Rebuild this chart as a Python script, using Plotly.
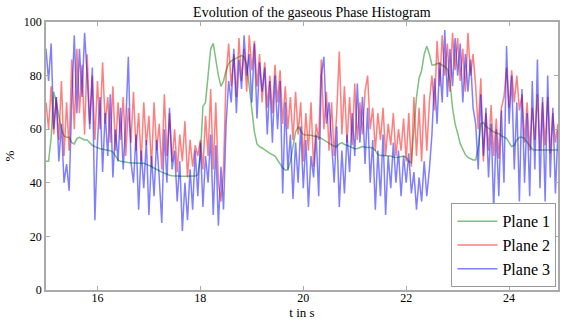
import numpy as np
import plotly.graph_objects as go

t0 = 15.0
dt = 0.05

plane1 = [
    48, 48, 57, 74, 70, 65, 60, 57.5, 57, 57,
    55, 54.5, 56.5, 57, 56.5, 56, 56, 55, 54, 53.5,
    53, 52.7, 52.5, 52.3, 52.2, 52, 51.5, 50, 48.5, 48,
    47.8, 47.6, 47.5, 47.4, 47.4, 47.3, 47.3, 47.3, 47.3, 47,
    46.5, 46, 45.6, 45, 44.5, 44, 43.5, 43, 42.8, 42.6,
    42.5, 42.4, 42.4, 42.4, 42.4, 42.4, 42.4, 42.4, 42.5, 43,
    50, 68.5, 70, 80, 90, 92, 86, 80, 76, 78,
    82, 84.5, 85.5, 86, 86.5, 87, 87.5, 87, 84, 76,
    68, 59, 54.5, 53.5, 53, 52.3, 51.5, 51, 50.5, 50,
    48.5, 47, 45.5, 44.8, 44.8, 48, 54, 59, 61, 59.5,
    58, 57.8, 57.8, 57.7, 57.5, 57.3, 57, 56.6, 56, 55.3,
    54.7, 54.2, 53.6, 53.5, 54.5, 55, 54.3, 54, 53.5, 53,
    52.7, 52.8, 53.3, 53.5, 53.3, 53.3, 53.2, 53, 52, 50.5,
    50.2, 50.2, 50.2, 50.2, 50, 49.6, 49.4, 49.5, 49.8, 50,
    49.5, 48, 47.5, 60, 72, 79, 82, 88, 91, 88,
    84, 84, 84.5, 84.5, 84, 83.3, 82.5, 78, 68, 62,
    58.5, 54.5, 52.5, 50.5, 49.5, 49, 48.5, 48.5, 53, 62,
    62.5, 61, 60.3, 59.5, 59, 58.6, 58.3, 57.5, 57, 56.6,
    55, 53.5, 54, 56, 57, 57, 56.5, 55, 53.8, 52.5,
    52.2, 52.2, 52.2, 52.2, 52.2, 52.2, 52.2, 52.2, 52.2, 52.2,
]

plane2 = [
    70, 60, 76, 58, 72, 56, 78, 50, 70, 52,
    86, 60, 90, 66, 84, 58, 88, 62, 80, 56,
    78, 60, 85, 62, 72, 55, 76, 52, 70, 56,
    72, 50, 68, 55, 74, 52, 66, 48, 70, 54,
    65, 46, 70, 52, 62, 45, 73, 50, 66, 48,
    60, 44, 58, 48, 63, 42, 56, 46, 54, 50,
    56, 45, 65, 50, 75, 45, 70, 40, 33, 45,
    80, 92, 76, 88, 72, 94, 78, 90, 74, 95,
    82, 93, 76, 88, 70, 85, 68, 80, 66, 84,
    70, 82, 62, 76, 60, 72, 56, 74, 58, 70,
    48, 66, 52, 70, 46, 62, 56, 86, 60, 74,
    52, 70, 50, 66, 89, 58, 76, 55, 72, 54,
    77, 56, 70, 58, 74, 80, 60, 68, 52, 66,
    56, 68, 50, 62, 54, 66, 50, 60, 52, 64,
    48, 66, 46, 72, 50, 68, 48, 73, 52, 70,
    80, 67, 93, 76, 95, 80, 92, 74, 96, 82,
    94, 78, 90, 74, 96, 80, 88, 76, 60, 79,
    48, 66, 52, 69, 50, 64, 49, 68, 72, 83,
    68, 82, 70, 80, 67, 73, 55, 70, 52, 68,
    56, 73, 52, 70, 54, 72, 51, 66, 55, 62,
]

plane3 = [
    90, 78, 92, 60, 72, 48, 62, 40, 47, 37,
    70, 95, 66, 90, 72, 96, 80, 60, 83, 26,
    55, 72, 44, 66, 50, 73, 42, 60, 48, 68,
    45, 62, 87, 48, 40, 58, 30, 52, 38, 56,
    28, 50, 35, 56, 42, 25, 60, 40, 68, 45,
    52, 33, 48, 22, 40, 26, 45, 30, 52, 35,
    55, 31, 50, 40, 58, 28, 54, 24, 46, 30,
    62, 78, 70, 90, 66, 86, 75, 95, 80, 88,
    70, 92, 64, 85, 74, 83, 58, 78, 55, 80,
    60, 78, 36, 70, 45, 58, 34, 55, 40, 61,
    38, 56, 31, 50, 42, 58, 35, 80, 87, 62,
    70, 55, 40, 61, 31, 52, 36, 58, 44, 66,
    50, 77, 55, 72, 47, 68, 40, 56, 30, 52,
    35, 58, 28, 50, 38, 55, 40, 52, 35, 50,
    40, 51, 36, 44, 30, 42, 33, 48, 35, 45,
    58, 79, 62, 85, 70, 97, 72, 90, 76, 94,
    80, 92, 70, 88, 74, 86, 68, 62, 45, 73,
    50, 68, 42, 62, 30, 60, 35, 67, 40, 91,
    62, 80, 45, 70, 33, 75, 40, 66, 35, 78,
    45, 86, 38, 72, 33, 80, 42, 68, 36, 60,
]

x_ticks = [16, 18, 20, 22, 24]
y_ticks = [0, 20, 40, 60, 80, 100]

t = t0 + dt * np.arange(len(plane1))

FONT = "Liberation Serif"

fig = go.Figure()
for name, vals, col in [
    ("Plane 1", plane1, "rgba(0,128,0,0.5)"),
    ("Plane 2", plane2, "rgba(255,0,0,0.5)"),
    ("Plane 3", plane3, "rgba(0,0,255,0.5)"),
]:
    fig.add_trace(go.Scatter(x=t, y=vals, mode="lines", name=name,
                             line=dict(color=col, width=1.5)))

axis_common = dict(
    showgrid=False, zeroline=False, showline=True, linecolor="#aaaaaa",
    linewidth=1.5, mirror="ticks", ticks="inside", ticklen=4,
    tickcolor="#aaaaaa", tickfont=dict(family=FONT, size=12, color="black"),
)

fig.update_layout(
    width=562, height=322,
    margin=dict(l=46, r=2, t=22, b=32),
    paper_bgcolor="white", plot_bgcolor="white",
    title=dict(text="Evolution of the gaseous Phase Histogram",
               font=dict(family=FONT, size=14, color="black"),
               x=0.555, xanchor="center", y=0.962, yanchor="middle"),
    xaxis=dict(range=[15, 24.95], tickvals=x_ticks, ticklabelstandoff=-4,
               title=dict(text="t in s", font=dict(family=FONT, size=13, color="black"),
                          standoff=0),
               **axis_common),
    yaxis=dict(range=[0, 100], tickvals=y_ticks,
               title=dict(text="%", font=dict(family=FONT, size=13, color="black"),
                          standoff=6),
               **axis_common),
    legend=dict(x=0.997, xanchor="right", y=0.01, yanchor="bottom",
                bgcolor="white", bordercolor="#999999", borderwidth=1,
                font=dict(family=FONT, size=16, color="black"),
                tracegroupgap=0, itemwidth=40),
    showlegend=True,
)

fig.write_html("out.html", config={"displayModeBar": False},
               post_script="document.body.style.margin='0';document.body.style.padding='0';")
